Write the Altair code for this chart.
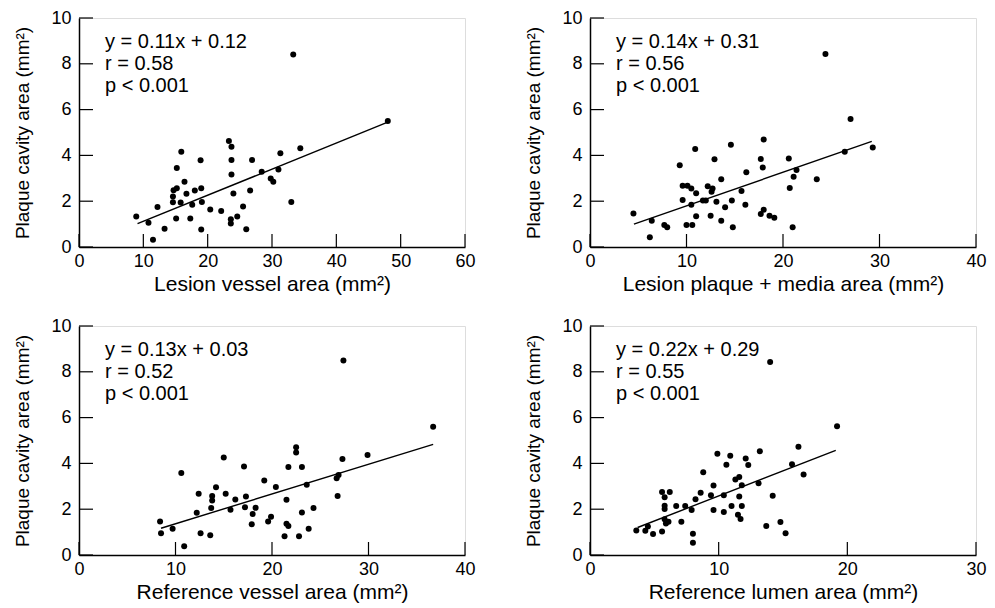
import altair as alt
import pandas as pd

FONT = "Liberation Sans, Arial, Helvetica, sans-serif"

y_title = "Plaque cavity area (mm²)"
y_ticks = [0, 2, 4, 6, 8, 10]

# Panel 1: Lesion vessel area
p1_x = [23.3, 23.7, 15.9, 34.4, 31.3, 18.9, 23.7, 26.9, 15.2, 23.7, 28.4, 31.0, 29.8, 30.2, 16.4,
        14.7, 15.2, 18.0, 16.7, 19.0, 24.0, 26.6, 14.6, 14.6, 15.8, 17.6, 19.1, 12.2, 20.4, 22.1,
        25.5, 33.0, 8.9, 15.1, 17.3, 10.8, 23.6, 24.6, 23.6, 13.3, 19.0, 26.0, 11.5, 33.3, 48.0]
p1_y = [4.63, 4.38, 4.16, 4.31, 4.09, 3.79, 3.80, 3.80, 3.45, 3.17, 3.29, 3.38, 2.99, 2.85, 2.85,
        2.48, 2.57, 2.47, 2.33, 2.57, 2.34, 2.47, 2.21, 1.95, 1.94, 1.84, 1.96, 1.75, 1.64, 1.57,
        1.77, 1.96, 1.33, 1.24, 1.24, 1.06, 1.21, 1.33, 1.03, 0.80, 0.76, 0.77, 0.32, 8.41, 5.50]
p1_fit_x = [9.1, 48.0]
p1_fit_y = [1.02, 5.45]
p1_note = ["y = 0.11x + 0.12", "r = 0.58", "p < 0.001"]
p1_xmax = 60
p1_title = "Lesion vessel area (mm²)"

# Panel 2: Lesion plaque + media area
p2_x = [27.0, 29.3, 26.4, 18.0, 14.6, 10.9, 12.9, 17.7, 20.6, 9.3, 17.9, 16.2, 21.4, 21.1, 23.5,
        13.6, 9.6, 10.1, 10.5, 11.0, 12.2, 12.7, 12.6, 15.7, 20.7, 9.6, 10.5, 11.7, 12.0, 13.1,
        14.7, 14.0, 16.1, 4.5, 6.4, 11.0, 12.5, 13.6, 17.7, 18.0, 18.6, 19.1, 7.7, 8.0, 10.0,
        10.6, 14.8, 21.0, 6.2, 24.4]
p2_y = [5.59, 4.35, 4.16, 4.69, 4.47, 4.28, 3.83, 3.84, 3.86, 3.57, 3.47, 3.26, 3.36, 3.07, 2.96,
        2.96, 2.67, 2.67, 2.55, 2.35, 2.65, 2.55, 2.41, 2.45, 2.58, 2.05, 1.85, 2.03, 2.03, 1.98,
        2.03, 1.74, 1.85, 1.46, 1.15, 1.34, 1.37, 1.15, 1.44, 1.63, 1.37, 1.28, 0.96, 0.86, 0.96,
        0.96, 0.86, 0.86, 0.43, 8.43]
p2_fit_x = [4.55, 29.2]
p2_fit_y = [1.0, 4.61]
p2_note = ["y = 0.14x + 0.31", "r = 0.56", "p < 0.001"]
p2_xmax = 40
p2_title = "Lesion plaque + media area (mm²)"

# Panel 3: Reference vessel area
p3_x = [29.9, 27.3, 22.5, 22.5, 15.0, 17.1, 21.7, 23.1, 10.6, 19.2, 23.6, 26.7, 26.9, 20.4, 14.2,
        12.4, 13.8, 15.2, 13.8, 16.2, 17.3, 21.5, 26.8, 13.7, 12.2, 15.7, 17.2, 18.3, 18.0, 24.3,
        23.1, 8.4, 9.7, 17.9, 19.6, 19.9, 21.5, 21.7, 23.8, 8.5, 12.6, 13.6, 21.3, 22.8, 10.9,
        27.4, 36.7]
p3_y = [4.37, 4.19, 4.70, 4.48, 4.26, 3.86, 3.84, 3.84, 3.58, 3.25, 3.07, 3.35, 3.49, 2.97, 2.96,
        2.68, 2.58, 2.68, 2.38, 2.42, 2.55, 2.41, 2.58, 2.05, 1.85, 1.98, 2.08, 2.06, 1.79, 2.05,
        1.86, 1.46, 1.15, 1.34, 1.46, 1.67, 1.37, 1.27, 1.15, 0.95, 0.95, 0.86, 0.82, 0.82, 0.38,
        8.49, 5.60]
p3_fit_x = [8.5, 36.7]
p3_fit_y = [1.17, 4.83]
p3_note = ["y = 0.13x + 0.03", "r = 0.52", "p < 0.001"]
p3_xmax = 40
p3_title = "Reference vessel area (mm²)"

# Panel 4: Reference lumen area
p4_x = [19.2, 16.2, 13.2, 9.9, 10.9, 12.1, 10.6, 12.3, 15.7, 8.8, 16.6, 11.3, 11.6, 9.6, 11.8,
        13.1, 5.6, 6.2, 5.8, 8.6, 8.2, 9.4, 10.4, 11.6, 14.2, 5.8, 5.8, 6.7, 7.4, 7.9,
        9.6, 10.4, 11.0, 11.8, 11.5, 11.7, 5.8, 5.9, 6.1, 7.1, 3.6, 4.3, 4.5, 4.9, 5.6,
        8.0, 13.7, 14.8, 15.2, 8.0, 14.0]
p4_y = [5.62, 4.73, 4.53, 4.42, 4.33, 4.21, 3.94, 3.93, 3.96, 3.61, 3.51, 3.30, 3.41, 3.03, 3.05,
        3.13, 2.75, 2.75, 2.52, 2.72, 2.43, 2.61, 2.61, 2.55, 2.59, 2.15, 2.01, 2.14, 2.14, 1.96,
        1.96, 1.88, 2.14, 2.14, 1.76, 1.57, 1.56, 1.38, 1.45, 1.45, 1.07, 1.06, 1.24, 0.92, 1.03,
        0.93, 1.27, 1.44, 0.95, 0.53, 8.43]
p4_fit_x = [3.7, 19.1]
p4_fit_y = [1.2, 4.57]
p4_note = ["y = 0.22x + 0.29", "r = 0.55", "p < 0.001"]
p4_xmax = 30
p4_title = "Reference lumen area (mm²)"

W, H = 386, 229


def panel(xv, yv, xmax, xtitle, fit_x, fit_y, note):
    x_ticks = list(range(0, xmax + 1, 10))
    xs = alt.Scale(domain=[0, xmax], nice=False, zero=True)
    ys = alt.Scale(domain=[0, 10], nice=False)
    xaxis = alt.Axis(values=x_ticks, ticks=False, tickSize=0, grid=False, domainColor="black",
                     domainWidth=1.5, labelFont=FONT, labelFontSize=18, labelColor="black",
                     labelPadding=5, labelFlush=False, labelOverlap=False, title=xtitle,
                     titleFont=FONT, titleFontSize=21, titleFontWeight="normal",
                     titleColor="black", titlePadding=3)
    yaxis = alt.Axis(values=y_ticks, ticks=False, tickSize=0, grid=False, domainColor="black",
                     domainWidth=1.5, labelFont=FONT, labelFontSize=18, labelColor="black",
                     labelPadding=8, labelFlush=False, labelOverlap=False, title=y_title,
                     titleFont=FONT, titleFontSize=19, titleFontWeight="normal",
                     titleColor="black", titlePadding=18)
    X = lambda: alt.X("x:Q", scale=xs, axis=xaxis)
    Y = lambda: alt.Y("y:Q", scale=ys, axis=yaxis)

    pts = alt.Chart(pd.DataFrame({"x": xv, "y": yv})).mark_circle(
        size=36, color="black", opacity=1).encode(x=X(), y=Y())
    fit = alt.Chart(pd.DataFrame({"x": fit_x, "y": fit_y})).mark_line(
        color="black", strokeWidth=1.4).encode(x=X(), y=Y())
    xt = alt.Chart(pd.DataFrame({"x": x_ticks})).mark_rule(
        color="black", strokeWidth=1.2).encode(x=X(), y=alt.value(H), y2=alt.value(H - 13))
    yt = alt.Chart(pd.DataFrame({"y": y_ticks})).mark_rule(
        color="black", strokeWidth=1.2).encode(y=Y(), x=alt.value(0), x2=alt.value(14))
    txt = alt.Chart(pd.DataFrame({"note": ["\n".join(note)]})).mark_text(
        align="left", baseline="alphabetic", font=FONT, fontSize=20, lineHeight=22,
        lineBreak="\n", color="black").encode(x=alt.value(26), y=alt.value(30), text="note:N")
    return alt.layer(pts, fit, xt, yt, txt).properties(width=W, height=H)


p1 = panel(p1_x, p1_y, p1_xmax, p1_title, p1_fit_x, p1_fit_y, p1_note)
p2 = panel(p2_x, p2_y, p2_xmax, p2_title, p2_fit_x, p2_fit_y, p2_note)
p3 = panel(p3_x, p3_y, p3_xmax, p3_title, p3_fit_x, p3_fit_y, p3_note)
p4 = panel(p4_x, p4_y, p4_xmax, p4_title, p4_fit_x, p4_fit_y, p4_note)

chart = alt.concat(p1, p2, p3, p4, columns=2, spacing={"row": 79, "column": 125},
                   bounds="flush").properties(
    padding={"left": 5, "top": 0, "right": 0, "bottom": 0}
).configure_view(stroke=None).configure(background="white")

chart.save("out.html", embed_options={"renderer": "svg", "actions": False})
